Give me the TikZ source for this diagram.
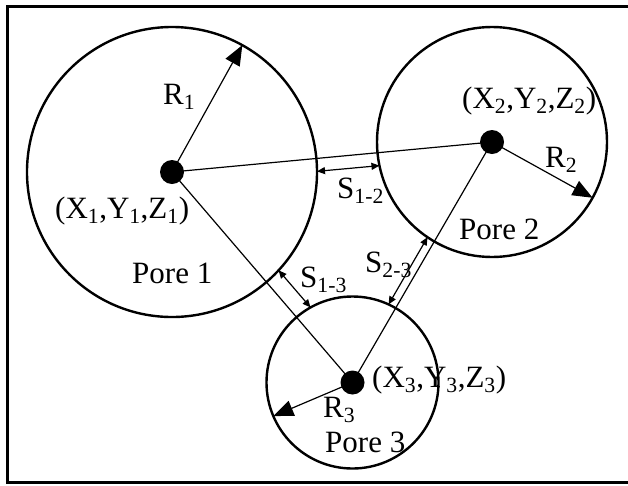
\documentclass[tikz,border=0pt]{standalone}
\usepackage{fontspec}
\setmainfont{Liberation Serif}
\usetikzlibrary{arrows.meta,calc}
\begin{document}
\begin{tikzpicture}[x=1pt,y=-1pt,
  pore/.style={circle,draw,line width=2.4pt,inner sep=0pt,outer sep=0pt},
  dot/.style={circle,fill,inner sep=0pt,outer sep=0pt,minimum size=24pt},
  link/.style={line width=1.2pt},
  radiusarrow/.style={line width=1.2pt,-{Triangle[length=20pt,width=16pt]}},
  gaparrow/.style={line width=1.2pt,{Triangle[length=8pt,width=7pt]}-{Triangle[length=8pt,width=7pt]}},
  lbl/.style={inner sep=0pt,anchor=base west,font=\fontsize{31}{37}\selectfont}]
\useasboundingbox (0,0) rectangle (628,485);
\fill[white] (0,0) rectangle (628,485);
% frame
\draw[line width=3pt] (628,6.7) -- (7,6.7) -- (7,482.3) -- (628,482.3);
% pores
\node[pore,minimum size=290pt] (p1) at (172,172) {};
\node[pore,minimum size=230pt] (p2) at (492,142) {};
\node[pore,minimum size=172pt] (p3) at (352.5,382.5) {};
% centres
\node[dot] (c1) at (172,172) {};
\node[dot] (c2) at (492,142) {};
\node[dot] (c3) at (352.5,382.5) {};
% links
\draw[link] (c1.center) -- (c2.center);
\draw[link] (c2.center) -- (c3.center);
\draw[link] (c1.center) -- (c3.center);
% radii
\draw[radiusarrow] (c1.center) -- (p1.61.6);
\draw[radiusarrow] (c2.center) -- (p2.-29.2);
\draw[radiusarrow] (c3.center) -- (p3.203.7);
% gaps
\coordinate (s12a) at ($(c1.center)!145pt!-5.1:(c2.center)$);
\coordinate (s12b) at ($(c2.center)!115pt!6.5:(c1.center)$);
\coordinate (s23a) at ($(c2.center)!115pt!-4:(c3.center)$);
\coordinate (s23b) at ($(c3.center)!86pt!5.3:(c2.center)$);
\coordinate (s13a) at ($(c1.center)!145pt!6.7:(c3.center)$);
\coordinate (s13b) at ($(c3.center)!86pt!-11.4:(c1.center)$);
\draw[gaparrow] (s12a) -- (s12b);
\draw[gaparrow] (s23a) -- (s23b);
\draw[gaparrow] (s13a) -- (s13b);
% labels
\node[lbl] (lR1) at (163,104) {R\textsubscript{1}};
\node[lbl] (lP1) at (132,283) {Pore 1};
\node[lbl] (lC1) at (55,218) {(X\textsubscript{1},Y\textsubscript{1},Z\textsubscript{1})};
\node[lbl] (lC2) at (462,108) {(X\textsubscript{2},Y\textsubscript{2},Z\textsubscript{2})};
\node[lbl] (lR2) at (545,167) {R\textsubscript{2}};
\node[lbl] (lS12) at (337,198) {S\textsubscript{1-2}};
\node[lbl] (lP2) at (459,239) {Pore 2};
\node[lbl] (lS23) at (365,272) {S\textsubscript{2-3}};
\node[lbl] (lS13) at (300,287) {S\textsubscript{1-3}};
\node[lbl] (lC3) at (372,387) {(X\textsubscript{3},Y\textsubscript{3},Z\textsubscript{3})};
\node[lbl] (lR3) at (323,417) {R\textsubscript{3}};
\node[lbl] (lP3) at (325,452) {Pore 3};
\end{tikzpicture}
\end{document}
